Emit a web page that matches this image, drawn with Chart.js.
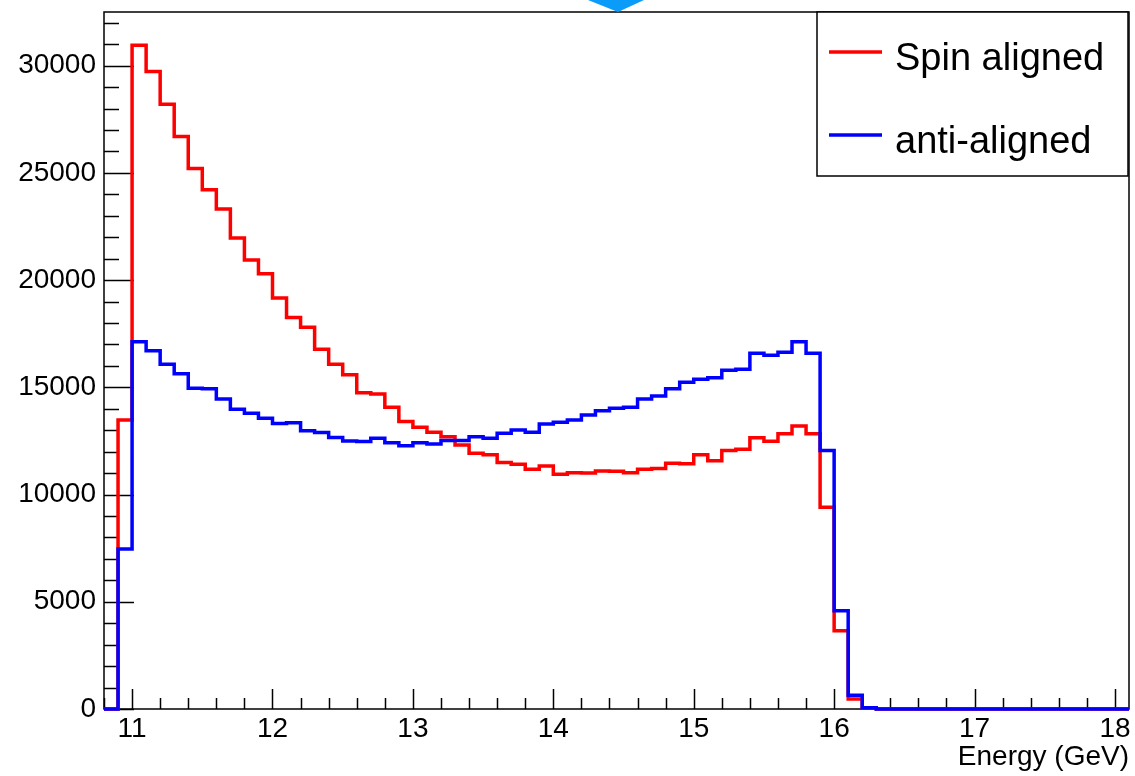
<!DOCTYPE html>
<html>
<head>
<meta charset="utf-8">
<title>Spin aligned vs anti-aligned</title>
<script src="https://cdn.jsdelivr.net/npm/chart.js@4.4.1/dist/chart.umd.min.js"></script>
<style>
  html, body { margin: 0; padding: 0; background: #fff; }
  #chart { display: block; }
</style>
</head>
<body>
<canvas id="chart" width="1135" height="776"></canvas>
<script>
// histogram bin edges (GeV), 0.1 wide
const binEdges = [
  10.8, 10.9, 11.0, 11.1, 11.2, 11.3, 11.4, 11.5, 11.6, 11.7, 11.8, 11.9,
  12.0, 12.1, 12.2, 12.3, 12.4, 12.5, 12.6, 12.7, 12.8, 12.9,
  13.0, 13.1, 13.2, 13.3, 13.4, 13.5, 13.6, 13.7, 13.8, 13.9,
  14.0, 14.1, 14.2, 14.3, 14.4, 14.5, 14.6, 14.7, 14.8, 14.9,
  15.0, 15.1, 15.2, 15.3, 15.4, 15.5, 15.6, 15.7, 15.8, 15.9,
  16.0, 16.1, 16.2, 16.3, 16.4, 16.5, 16.6, 16.7, 16.8, 16.9,
  17.0, 17.1, 17.2, 17.3, 17.4, 17.5, 17.6, 17.7, 17.8, 17.9,
  18.0, 18.1
];

// bin contents, one per bin starting at 10.8
const spinAligned = [
  0, 13480, 30950, 29720, 28200, 26690, 25200, 24210, 23320, 21960, 20940, 20290,
  19160, 18250, 17800, 16780, 16080, 15580, 14750, 14690, 14070, 13400,
  13140, 12910, 12700, 12310, 11930, 11850, 11490, 11410, 11180, 11330,
  10950, 11020, 11010, 11100, 11090, 11020, 11180, 11210, 11460, 11430,
  11860, 11570, 12050, 12110, 12650, 12490, 12840, 13200, 12830, 9410,
  3650, 470, 40, 0, 0, 0, 0, 0, 0, 0,
  0, 0, 0, 0, 0, 0, 0, 0, 0, 0,
  0
];

const antiAligned = [
  0, 7460, 17130, 16700, 16080, 15630, 14960, 14930, 14460, 13980, 13790, 13560,
  13310, 13350, 12980, 12890, 12660, 12500, 12470, 12630, 12420, 12270,
  12420, 12360, 12520, 12520, 12690, 12630, 12860, 13010, 12910, 13290,
  13370, 13480, 13710, 13910, 14020, 14070, 14460, 14600, 14930, 15240,
  15380, 15450, 15800, 15840, 16590, 16500, 16640, 17120, 16590, 12050,
  4580, 640, 60, 0, 0, 0, 0, 0, 0, 0,
  0, 0, 0, 0, 0, 0, 0, 0, 0, 0,
  0
];

const xTicks = [11, 12, 13, 14, 15, 16, 17, 18];
const yTicks = [0, 5000, 10000, 15000, 20000, 25000, 30000];
const xRange = [10.8, 18.1];
const yRange = [0, 32500];
const xMinorStep = 0.2;
const yMinorStep = 1000;

const FONT = '"Liberation Sans", Arial, Helvetica, sans-serif';

// step outline: each bin edge carries its bin value, plus the closing edge
function histPoints(values) {
  const pts = values.map((v, i) => ({ x: binEdges[i], y: v }));
  pts.push({ x: binEdges[values.length], y: values[values.length - 1] });
  return pts;
}

// ROOT style frame with inward ticks, drawn under the histograms
const rootAxes = {
  id: 'rootAxes',
  beforeDatasetsDraw(chart) {
    const { ctx, chartArea: a, scales: { x, y } } = chart;
    ctx.save();
    ctx.strokeStyle = '#000';
    ctx.lineWidth = 1.5;
    ctx.strokeRect(a.left, a.top, a.right - a.left, a.bottom - a.top);

    ctx.beginPath();
    const nx = Math.round((xRange[1] - xRange[0]) / xMinorStep);
    for (let k = 0; k <= nx; k++) {
      const v = xRange[0] + k * xMinorStep;
      if (v > xRange[1] + 1e-9) break;
      const major = xTicks.some(t => Math.abs(t - v) < 1e-6);
      const px = Math.round(x.getPixelForValue(v)) + 0.5;
      ctx.moveTo(px, a.bottom);
      ctx.lineTo(px, a.bottom - (major ? 20 : 11));
    }
    const ny = Math.floor(yRange[1] / yMinorStep);
    for (let k = 0; k <= ny; k++) {
      const v = k * yMinorStep;
      const major = yTicks.includes(v);
      const py = Math.round(y.getPixelForValue(v)) + 0.5;
      ctx.moveTo(a.left, py);
      ctx.lineTo(a.left + (major ? 30 : 15), py);
    }
    ctx.stroke();
    ctx.restore();
  },
  afterDraw(chart) {
    const { ctx } = chart;
    ctx.save();
    // legend box in the top right corner
    const box = { left: 817, top: 12, right: 1128, bottom: 176 };
    ctx.fillStyle = '#fff';
    ctx.fillRect(box.left, box.top, box.right - box.left, box.bottom - box.top);
    ctx.strokeStyle = '#000';
    ctx.lineWidth = 1.5;
    ctx.strokeRect(box.left, box.top, box.right - box.left, box.bottom - box.top);
    const rows = [52, 135];
    ctx.font = '38px ' + FONT;
    ctx.textBaseline = 'alphabetic';
    ctx.fillStyle = '#000';
    chart.data.datasets.forEach((ds, i) => {
      const ly = rows[i];
      ctx.strokeStyle = ds.borderColor;
      ctx.lineWidth = 3.5;
      ctx.beginPath();
      ctx.moveTo(829, ly);
      ctx.lineTo(882, ly);
      ctx.stroke();
      ctx.fillText(ds.label, 895, ly + 18);
    });

    // little blue marker cut off at the top edge
    ctx.fillStyle = '#0a9cf8';
    ctx.beginPath();
    ctx.moveTo(588, 0);
    ctx.lineTo(644, 0);
    ctx.lineTo(618, 12);
    ctx.closePath();
    ctx.fill();
    ctx.restore();
  }
};

new Chart(document.getElementById('chart'), {
  type: 'line',
  data: {
    datasets: [
      {
        label: 'Spin aligned',
        data: histPoints(spinAligned),
        borderColor: '#ff0000',
        borderWidth: 3.5,
        stepped: true,
        pointRadius: 0,
        fill: false,
        clip: 6,
        order: 1
      },
      {
        label: 'anti-aligned',
        data: histPoints(antiAligned),
        borderColor: '#0000ff',
        borderWidth: 3.5,
        stepped: true,
        pointRadius: 0,
        fill: false,
        clip: 6,
        order: 0
      }
    ]
  },
  options: {
    responsive: false,
    animation: false,
    layout: { padding: { top: 12, right: 6, left: 0, bottom: 0 } },
    plugins: {
      legend: { display: false },
      tooltip: { enabled: false }
    },
    scales: {
      x: {
        type: 'linear',
        min: xRange[0],
        max: xRange[1],
        afterBuildTicks: s => { s.ticks = xTicks.map(v => ({ value: v })); },
        afterFit: s => { s.height = 67; s.paddingLeft = 0; s.paddingRight = 0; },
        grid: { display: false, drawTicks: false },
        border: { display: false },
        ticks: {
          autoSkip: false,
          maxRotation: 0,
          padding: 3,
          color: '#000',
          font: { family: FONT, size: 28 },
          callback: v => String(v)
        },
        title: {
          display: true,
          text: 'Energy (GeV)',
          align: 'end',
          color: '#000',
          font: { family: FONT, size: 28 },
          padding: { top: 0, bottom: 2 }
        }
      },
      y: {
        type: 'linear',
        min: yRange[0],
        max: yRange[1],
        afterBuildTicks: s => { s.ticks = yTicks.map(v => ({ value: v })); },
        afterFit: s => { s.width = 104; s.paddingTop = 0; s.paddingBottom = 0; },
        grid: { display: false, drawTicks: false },
        border: { display: false },
        ticks: {
          padding: 8,
          color: '#000',
          font: { family: FONT, size: 28 },
          callback: v => String(v)
        }
      }
    }
  },
  plugins: [rootAxes]
});
</script>
</body>
</html>
